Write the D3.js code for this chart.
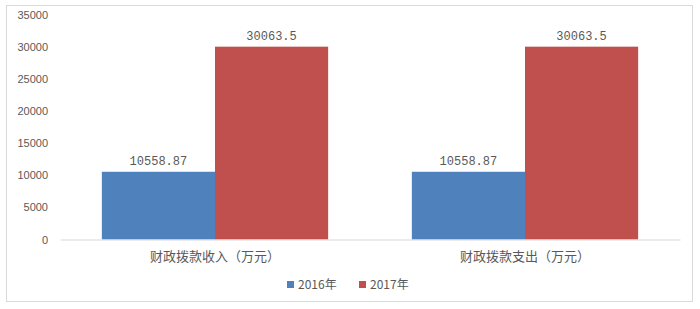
<!DOCTYPE html>
<html>
<head>
<meta charset="utf-8">
<script src="https://cdn.jsdelivr.net/npm/d3@7"></script>
<style>
  body { margin: 0; background: #fff; }
  svg text { fill: #595959; }
</style>
</head>
<body>
<div id="chart"></div>
<script>
var categories = ["财政拨款收入（万元）", "财政拨款支出（万元）"];
var seriesNames = ["2016年", "2017年"];
var values2016 = [10558.87, 10558.87];
var values2017 = [30063.5, 30063.5];
var labels2016 = ["10558.87", "10558.87"];
var labels2017 = ["30063.5", "30063.5"];
var yTicks = [0, 5000, 10000, 15000, 20000, 25000, 30000, 35000];

var colors = ["#4F81BD", "#C0504D"];

var width = 700, height = 309;
var margin = {top: 15, right: 20, bottom: 70, left: 60};
var plotW = 680 - margin.left, plotH = 239.5 - margin.top;

var svg = d3.select("#chart").append("svg")
    .attr("width", width)
    .attr("height", height);

// outer frame
svg.append("rect")
    .attr("x", 6.5).attr("y", 5.5)
    .attr("width", 686).attr("height", 296)
    .attr("fill", "none")
    .attr("stroke", "#d9d9d9");

var g = svg.append("g")
    .attr("transform", "translate(" + margin.left + "," + margin.top + ")");

var data = categories.map(function(c, i) {
    return {cat: c, vals: [
        {s: 0, v: values2016[i], label: labels2016[i]},
        {s: 1, v: values2017[i], label: labels2017[i]}
    ]};
});

var x0 = d3.scaleBand()
    .domain(categories)
    .range([0, plotW])
    .paddingInner(0.27)
    .paddingOuter(0.135);

var x1 = d3.scaleBand()
    .domain([0, 1])
    .range([0, x0.bandwidth()]);

var y = d3.scaleLinear()
    .domain([0, 35000])
    .range([plotH, 0]);

// y axis labels (no line)
var yAxis = d3.axisLeft(y).tickValues(yTicks).tickFormat(d3.format("d"))
    .tickSize(0).tickPadding(12);
var ya = g.append("g").call(yAxis);
ya.select(".domain").remove();
ya.selectAll("text")
    .attr("font-family", "Liberation Sans, Arial, sans-serif")
    .attr("font-size", "11px")
    .style("fill", "#595959");

var groups = g.selectAll(".grp")
    .data(data)
    .enter().append("g")
    .attr("transform", function(d) { return "translate(" + x0(d.cat) + ",0)"; });

groups.selectAll("rect")
    .data(function(d) { return d.vals; })
    .enter().append("rect")
    .attr("x", function(d) { return x1(d.s); })
    .attr("y", function(d) { return y(d.v); })
    .attr("width", x1.bandwidth())
    .attr("height", function(d) { return plotH - y(d.v); })
    .attr("fill", function(d) { return colors[d.s]; });

groups.selectAll(".lbl")
    .data(function(d) { return d.vals; })
    .enter().append("text")
    .attr("class", "lbl")
    .attr("x", function(d) { return x1(d.s) + x1.bandwidth() / 2; })
    .attr("y", function(d) { return y(d.v) - 7; })
    .attr("text-anchor", "middle")
    .attr("font-family", "Liberation Mono, DejaVu Sans Mono, monospace")
    .attr("font-size", "12px")
    .text(function(d) { return d.label; });

// baseline / x axis
var xAxis = d3.axisBottom(x0).tickSize(0).tickPadding(12);
var xa = g.append("g")
    .attr("transform", "translate(0," + plotH + ")")
    .call(xAxis);
xa.select(".domain").attr("stroke", "#d9d9d9");
xa.selectAll("text")
    .attr("font-family", "Noto Sans CJK SC, sans-serif")
    .attr("font-size", "13px")
    .style("fill", "#595959");

// legend
var legend = svg.append("g").attr("transform", "translate(287,285)");
var legendX = [0, 72];
seriesNames.forEach(function(s, i) {
    var lg = legend.append("g").attr("transform", "translate(" + legendX[i] + ",0)");
    lg.append("rect")
        .attr("x", 0).attr("y", -4)
        .attr("width", 7).attr("height", 7)
        .attr("fill", colors[i]);
    lg.append("text")
        .attr("x", 11).attr("y", 0)
        .attr("dy", "0.35em")
        .attr("font-family", "Noto Sans CJK SC, sans-serif")
        .attr("font-size", "12px")
        .text(s);
});
</script>
</body>
</html>
